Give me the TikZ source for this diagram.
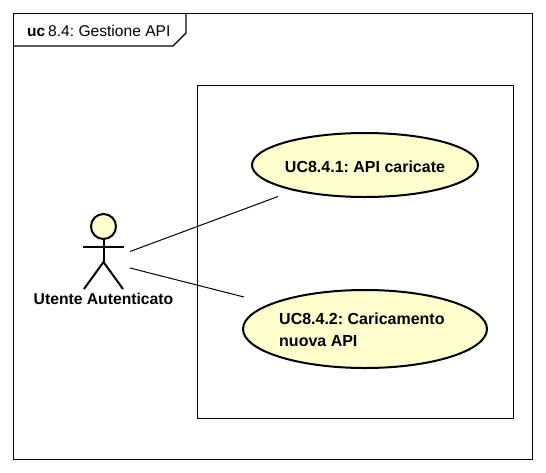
\documentclass[tikz,border=0pt]{standalone}
\usepackage{fontspec}
\setmainfont{Liberation Sans}
\usetikzlibrary{shapes.geometric}
\definecolor{ucfill}{HTML}{FEFECE}
\frenchspacing
\tikzset{
  x=1pt,y=-1pt,
  uctext/.style={font=\fontsize{16}{21.5}\selectfont\bfseries\frenchspacing,align=left,inner sep=0pt},
  actortext/.style={font=\fontsize{15.7}{21.5}\selectfont\bfseries,inner sep=0pt},
  frameline/.style={draw=black,line width=1.2pt},
  actorline/.style={draw=black,line width=2pt},
  ucshape/.style={ellipse,draw=black,line width=2pt,fill=ucfill,inner sep=0pt},
  assoc/.style={draw=black,line width=1pt},
}
\begin{document}
\begin{tikzpicture}
\useasboundingbox (0,0) rectangle (546,472);
\fill[white] (0,0) rectangle (546,472);
\draw[frameline] (13.5,13.5) rectangle (532.5,459.5);
\draw[frameline] (13.5,46) -- (173,46) -- (186,33) -- (186,13.5);
\node[anchor=base west,inner sep=0pt,font=\fontsize{15.5}{18}\selectfont\bfseries] (kw) at (27,36) {uc};
\node[anchor=base west,inner sep=0pt,font=\fontsize{15.6}{18}\selectfont\frenchspacing] (title) at (48,36) {8.4: Gestione API};
\node[draw=black,line width=1pt,minimum width=316pt,minimum height=333pt,inner sep=0pt,outer sep=0pt] (sys) at (355,251.5) {};
\node[ucshape,minimum width=226pt,minimum height=64pt] (uca) at (365,165) {};
\node[uctext] (ucat) at (365,167) {UC8.4.1: API caricate};
\node[ucshape,minimum width=244pt,minimum height=78pt] (ucb) at (365,329) {};
\node[uctext,anchor=west] (ucbt) at (279,330) {UC8.4.2: Caricamento\\nuova API};
\node[circle,draw=black,line width=2pt,fill=ucfill,minimum size=25pt,inner sep=0pt] (head) at (103.5,226.5) {};
\coordinate (hip) at (103.5,262);
\coordinate (arml) at (83,247);
\coordinate (armr) at (124,247);
\coordinate (legl) at (84,289);
\coordinate (legr) at (123,289);
\draw[actorline] (head.south) -- (hip);
\draw[actorline] (arml) -- (armr);
\draw[actorline] (legl) -- (hip) -- (legr);
\node[actortext] (actor) at (103.5,299) {Utente Autenticato};
\coordinate (a1) at (130,251.5);
\coordinate (a2) at (130,268);
\coordinate (e1) at (278,196.5);
\coordinate (e2) at (244,297);
\draw[assoc] (a1) -- (e1);
\draw[assoc] (a2) -- (e2);
\end{tikzpicture}
\end{document}
